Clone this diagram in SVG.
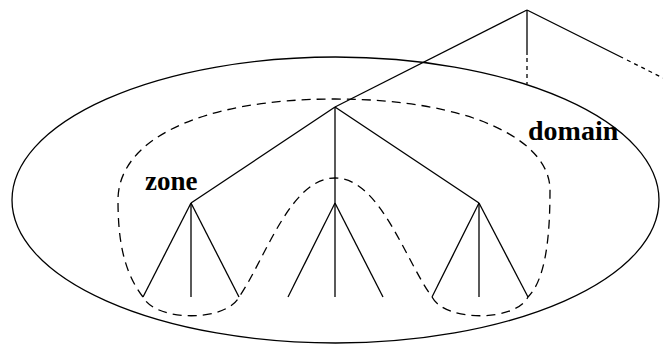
<svg xmlns="http://www.w3.org/2000/svg" width="663" height="347" viewBox="0 0 663 347">
<style>
.l{stroke:#000;stroke-width:1.3;fill:none}
.d{stroke:#000;stroke-width:1.3;fill:none;stroke-dasharray:9,6}
.dd{stroke:#000;stroke-width:1.3;fill:none;stroke-dasharray:4,4}
.t{font-family:"Liberation Serif","Times New Roman",serif;font-weight:bold;font-size:27px;fill:#000}
</style>
<rect width="663" height="347" fill="#fff"/>
<g id="domain-ellipse"><ellipse class="l" cx="335.5" cy="200" rx="323.5" ry="143"/></g>
<g id="domain-boundary"><path class="d" d="M143,297 C122,270 118,235 118,200 C118,140 200,99 335,99 C470,99 550,140 550,190 C550,240 545,280 528,297 C515,322 445,322 432,297 C405,260 380,178 335,178 C290,178 265,260 239,297 C226,322 156,322 143,297 Z"/></g>
<g id="connectors">
<line class="l" x1="527" y1="10" x2="335" y2="107"/>
<line class="l" x1="527" y1="10" x2="527" y2="55"/>
<line class="dd" x1="527" y1="58" x2="527" y2="84"/>
<line class="l" x1="527" y1="10" x2="623" y2="58"/>
<line class="dd" x1="627" y1="60" x2="663" y2="78"/>
<line class="l" x1="335" y1="107" x2="191" y2="203"/>
<line class="l" x1="335" y1="107" x2="335" y2="297"/>
<line class="l" x1="335" y1="107" x2="479" y2="203"/>
<line class="l" x1="191" y1="203" x2="143" y2="297"/>
<line class="l" x1="191" y1="203" x2="191" y2="297"/>
<line class="l" x1="191" y1="203" x2="239" y2="297"/>
<line class="l" x1="335" y1="203" x2="288" y2="297"/>
<line class="l" x1="335" y1="203" x2="383" y2="297"/>
<line class="l" x1="479" y1="203" x2="432" y2="297"/>
<line class="l" x1="479" y1="203" x2="479" y2="297"/>
<line class="l" x1="479" y1="203" x2="528" y2="297"/>
</g>
<g id="label-zone"><text class="t" x="145" y="190">zone</text></g>
<g id="label-domain"><text class="t" x="528" y="140" style="font-size:28px">domain</text></g>
</svg>
